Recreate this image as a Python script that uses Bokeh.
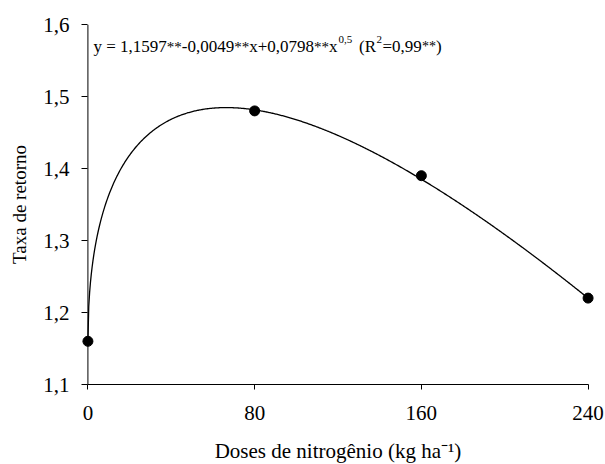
from bokeh.plotting import figure
from bokeh.models import Range1d, FixedTicker, CustomJSTickFormatter, Label, Span
from bokeh.embed import file_html
from bokeh.resources import INLINE
import numpy as np

# Data
doses = [0, 80, 160, 240]
taxa = [1.16, 1.48, 1.39, 1.22]
x_ticks = [0, 80, 160, 240]
y_ticks = [1.1, 1.2, 1.3, 1.4, 1.5, 1.6]
# Fitted regression shown on the chart: y = b0 + b1*x + b2*x^0.5
b0, b1, b2 = 1.1597, -0.0049, 0.0798

FONT = "'Liberation Serif', 'Times New Roman', serif"

X0, X1 = -5, 245
FW, FH = 521, 360
LEFT, TOP = 77, 24

p = figure(width=605, height=464, output_backend="svg", toolbar_location=None,
           x_range=Range1d(X0, X1), y_range=Range1d(1.1, 1.6),
           frame_width=FW, frame_height=FH,
           min_border_left=LEFT, min_border_right=7, min_border_top=TOP, min_border_bottom=80)
p.outline_line_color = None
p.grid.visible = False
p.background_fill_color = "white"

# fitted curve
xs = np.linspace(0, 240, 600)
ys = b0 + b1 * xs + b2 * np.sqrt(xs)
p.line(xs, ys, line_color="black", line_width=1.3)
p.scatter(doses, taxa, size=10, color="black")

fmt = CustomJSTickFormatter(code="return tick.toFixed(1).replace('.', ',');")
xfmt = CustomJSTickFormatter(code="return tick.toFixed(0);")

for ax in (p.xaxis[0], p.yaxis[0]):
    ax.axis_line_color = "black"
    ax.major_tick_line_color = "black"
    ax.minor_tick_line_color = None
    ax.major_label_text_font = FONT
    ax.major_label_text_font_size = "21px"
    ax.major_label_text_color = "black"
    ax.axis_label_text_font = FONT
    ax.axis_label_text_font_style = "normal"
    ax.axis_label_text_color = "black"

p.xaxis.ticker = FixedTicker(ticks=x_ticks)
p.xaxis.formatter = xfmt
p.xaxis.bounds = (0, 240)
p.xaxis.major_tick_in = 0
p.xaxis.major_tick_out = 5
p.xaxis.major_label_standoff = 16
p.xaxis.axis_label = "Doses de nitrogênio (kg ha⁻¹)"
p.xaxis.axis_label_text_font_size = "21px"
p.xaxis.axis_label_text_line_height = 0.9
p.xaxis.axis_label_standoff = 16

# y axis: the range starts a little below 0 so that the marker at x=0 is not
# clipped; the axis line is drawn at x=0 and the ticks are shifted onto it.
px_per_x = FW / float(X1 - X0)
shift = int(round(-X0 * px_per_x))
p.yaxis.ticker = FixedTicker(ticks=y_ticks)
p.yaxis.formatter = fmt
p.yaxis.axis_line_color = None
p.yaxis.major_tick_in = shift
p.yaxis.major_tick_out = 6 - shift
p.yaxis.major_label_standoff = 8
p.yaxis.axis_label = "Taxa de retorno"
p.yaxis.axis_label_text_font_size = "19px"
p.yaxis.axis_label_standoff = 10
p.add_layout(Span(location=0, dimension="height", line_color="black", line_width=1))

# pixel layout converted to data coords
def dx(page_x):
    return X0 + (page_x - LEFT) / px_per_x
def dy(page_y):
    return 1.6 - (page_y - TOP) / (FH / 0.5)

def lab(txt, px, py, size, align="left"):
    p.add_layout(Label(x=dx(px), y=dy(py), text=txt, text_font=FONT,
                       text_font_size=size, text_color="black",
                       text_baseline="alphabetic", text_align=align))

# equation
BASE, SUP = 46, 39
lab("y = 1,1597", 93, BASE, "17px")
lab("**", 166.3, BASE, "15px")
lab("-0,0049", 181.3, BASE, "17px")
lab("**", 233.7, BASE, "15px")
lab("x+0,0798", 248.7, BASE, "17px")
lab("**", 313.5, BASE, "15px")
lab("x", 328.5, BASE, "17px")
lab("0,5", 338, SUP, "11px")
lab("(R", 358.5, BASE, "17px")
lab("2", 376, SUP, "11px")
lab("=0,99", 382, BASE, "17px")
lab("**", 421.5, BASE, "14px")
lab(")", 435.5, BASE, "17px")

open("out.html", "w").write(file_html(p, INLINE))
